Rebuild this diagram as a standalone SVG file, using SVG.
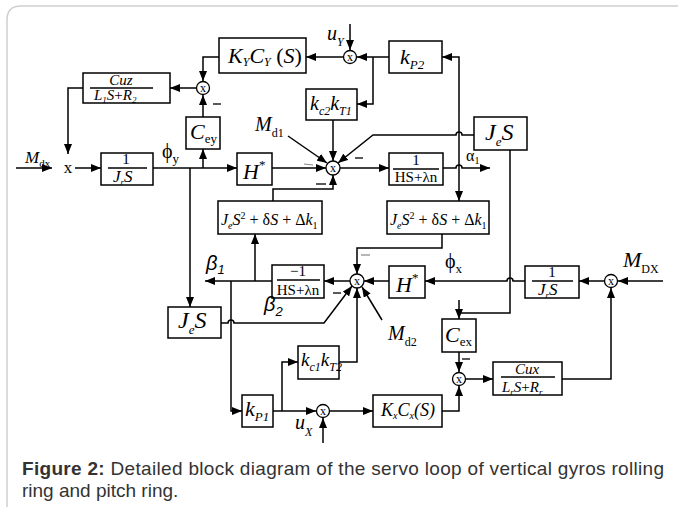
<svg xmlns="http://www.w3.org/2000/svg" width="678" height="507" viewBox="0 0 678 507">
<defs>
<marker id="ah" markerWidth="10" markerHeight="8" refX="10" refY="4" orient="auto" markerUnits="userSpaceOnUse"><path d="M0,0L10,4L0,8z" fill="#000"/></marker>
<style>
.b{fill:#fff;stroke:#000;stroke-width:1.5}
.c{fill:#fff;stroke:#000;stroke-width:1.3}
.l{fill:none;stroke:#000;stroke-width:1.5}
.a{marker-end:url(#ah)}
.f{stroke:#000;stroke-width:1.3}
.mi{stroke:#000;stroke-width:1.3}
.mg{stroke:#888;stroke-width:1.2}
.m{font-family:"Liberation Serif","Times New Roman",serif;font-style:italic;fill:#000}
.r{font-family:"Liberation Serif","Times New Roman",serif;font-style:normal;fill:#000}
.g{font-family:"Liberation Sans",Arial,sans-serif;font-style:italic;fill:#000}
.x{font-family:"Liberation Serif",serif;font-size:12px;text-anchor:middle;fill:#000}
.cap{font-family:"Liberation Sans",Arial,sans-serif;font-size:19px;fill:#333}
</style>
</defs>
<rect width="678" height="507" fill="#fff"/>
<path d="M7,507 V20 Q7,6 21,6 H678" fill="none" stroke="#cfcfcf" stroke-width="1.5"/>

<g id="connectors">
<path class="l a" d="M16,168 H52"/>
<path class="l a" d="M83,88 H68 V154"/>
<path class="l a" d="M75,168 H101"/>
<path class="l a" d="M153,168 H237"/>
<path class="l a" d="M203,168 V149"/>
<path class="l a" d="M203,117 V95"/>
<path class="l a" d="M190,168 V307"/>
<path class="l a" d="M219,57 H203 V81"/>
<path class="l a" d="M196,88 H170"/>
<path class="l a" d="M350,24 V50"/>
<path class="l a" d="M343,57 H306"/>
<path class="l a" d="M389,57 H357"/>
<path class="l a" d="M373,57 V104 H357"/>
<path class="l a" d="M333,120 V161"/>
<path class="l a" d="M272,168 H326"/>
<path class="l a" d="M288,136 L327,163"/>
<path class="l a" d="M474,135 H462 A3,3 0 0 0 456,135 H373 L338,163"/>
<path class="l a" d="M273,201 V189 H333 V175"/>
<path class="l a" d="M340,168 H389"/>
<path class="l a" d="M443,168 H456 A3,3 0 0 1 462,168 H490"/>
<path class="l a" d="M459,110 V57 H442"/>
<path class="l a" d="M459,110 V201"/>
<path class="l a" d="M442,234 V248 H357 V274"/>
<path class="l a" d="M389,281 H364"/>
<path class="l a" d="M525,281 H513 A3,3 0 0 0 507,281 H425"/>
<path class="l a" d="M604,281 H579"/>
<path class="l a" d="M663,281 H618"/>
<path class="l a" d="M562,379 H611 V288"/>
<path class="l a" d="M350,281 H324"/>
<path class="l a" d="M272,281 H205"/>
<path class="l a" d="M255,281 V234"/>
<path class="l a" d="M231,281 V411 H242"/>
<path class="l a" d="M221,323 H228 A3,3 0 0 1 234,323 H324 L352,286"/>
<path class="l a" d="M382,320 L362,287"/>
<path class="l a" d="M339,362 H357 V288"/>
<path class="l a" d="M273,411 H316"/>
<path class="l a" d="M282,411 V362 H298"/>
<path class="l a" d="M323,443 V418"/>
<path class="l a" d="M330,411 H373"/>
<path class="l a" d="M442,411 H459 V386"/>
<path class="l a" d="M459,352 V372"/>
<path class="l a" d="M466,379 H493"/>
<path class="l" d="M510,150 V313 H459"/>
<path class="l a" d="M459,300 V319"/>
<line class="mi" x1="213" y1="104" x2="221" y2="104"/>
<line class="mi" x1="355" y1="158" x2="363" y2="158"/>
<line class="mi" x1="316" y1="184" x2="326" y2="184"/>
<line class="mg" x1="361" y1="255" x2="370" y2="255"/>
<line class="mi" x1="333" y1="293" x2="341" y2="293"/>
<line class="mi" x1="462" y1="359" x2="470" y2="359"/>
<line class="mg" x1="304" y1="164" x2="313" y2="165"/>
</g>

<g id="cuz">
<rect class="b" x="83" y="73" width="87" height="30"/>
<line class="f" x1="90" y1="88" x2="153" y2="88"/>
<text class="m" font-size="15" x="121" y="85" text-anchor="middle">Cuz</text>
<text class="m" font-size="15" x="94" y="100">L<tspan font-size="9" dy="3">1</tspan><tspan dy="-3">S</tspan><tspan font-style="normal">+</tspan>R<tspan font-size="9" dy="3">2</tspan></text>
</g>
<g id="kycy">
<rect class="b" x="219" y="38" width="87" height="35"/>
<text class="m" font-size="22" x="228" y="63">K<tspan font-size="12" dy="3">Y</tspan><tspan dy="-3">C</tspan><tspan font-size="12" dy="3">Y</tspan><tspan dy="-3" font-style="normal"> (</tspan>S<tspan font-style="normal">)</tspan></text>
</g>
<g id="sumUY">
<circle class="c" cx="350" cy="57" r="6.5"/>
<text class="x" x="350" y="61">x</text>
</g>
<g id="kp2">
<rect class="b" x="389" y="41" width="53" height="32"/>
<text class="m" font-size="22" x="400" y="64">k<tspan font-size="13" dy="5">P2</tspan></text>
</g>
<g id="kc2kt1">
<rect class="b" x="306" y="89" width="51" height="31"/>
<text class="m" font-size="20" x="310" y="110">k<tspan font-size="12" dy="5">c2</tspan><tspan dy="-5">k</tspan><tspan font-size="12" dy="5">T1</tspan></text>
</g>
<g id="sumTL">
<circle class="c" cx="203" cy="88" r="6.5"/>
<text class="x" x="203" y="92">x</text>
</g>
<g id="cey">
<rect class="b" x="186" y="117" width="34" height="32"/>
<text class="m" font-size="22" x="190" y="139">C<tspan class="r" font-size="13" dy="4">ey</tspan></text>
</g>
<g id="xjoin">
<text class="r" font-size="17" x="68" y="173" text-anchor="middle">x</text>
</g>
<g id="jrs1">
<rect class="b" x="101" y="153" width="52" height="32"/>
<text class="r" font-size="15" x="126" y="164" text-anchor="middle">1</text>
<line class="f" x1="108" y1="168" x2="147" y2="168"/>
<text class="m" font-size="17" x="113" y="182">J<tspan font-size="9" dy="3">r</tspan><tspan dy="-3">S</tspan></text>
</g>
<g id="hstar1">
<rect class="b" x="237" y="153" width="35" height="32"/>
<text class="m" font-size="22" x="243" y="179">H<tspan class="r" font-size="13" dy="-10">*</tspan></text>
</g>
<g id="sumTop">
<circle class="c" cx="333" cy="168" r="7"/>
<text class="x" x="333" y="172">x</text>
</g>
<g id="hs1">
<rect class="b" x="389" y="153" width="54" height="32"/>
<text class="r" font-size="15" x="416" y="165" text-anchor="middle">1</text>
<line class="f" x1="393" y1="169" x2="439" y2="169"/>
<text class="r" font-size="15" x="416" y="182" text-anchor="middle">HS+λn</text>
</g>
<g id="jes1">
<rect class="b" x="474" y="117" width="53" height="33"/>
<text class="m" font-size="24" x="485" y="140">J<tspan font-size="13" dy="6">e</tspan><tspan dy="-6">S</tspan></text>
</g>
<g id="jes2L">
<rect class="b" x="218" y="201" width="104" height="33"/>
<text class="m" font-size="16" x="221" y="225">J<tspan font-size="10" dy="4">e</tspan><tspan dy="-4">S</tspan><tspan class="r" font-size="10" dy="-6">2</tspan><tspan class="r" dy="6"> + δ</tspan>S<tspan class="r"> + Δ</tspan>k<tspan class="r" font-size="10" dy="4">1</tspan></text>
</g>
<g id="jes2R">
<rect class="b" x="387" y="201" width="102" height="33"/>
<text class="m" font-size="16" x="390" y="225">J<tspan font-size="10" dy="4">e</tspan><tspan dy="-4">S</tspan><tspan class="r" font-size="10" dy="-6">2</tspan><tspan class="r" dy="6"> + δ</tspan>S<tspan class="r"> + Δ</tspan>k<tspan class="r" font-size="10" dy="4">1</tspan></text>
</g>
<g id="hs2">
<rect class="b" x="272" y="265" width="52" height="33"/>
<text class="r" font-size="15" x="298" y="276" text-anchor="middle">−1</text>
<line class="f" x1="277" y1="280" x2="320" y2="280"/>
<text class="r" font-size="15" x="298" y="295" text-anchor="middle">HS+λn</text>
</g>
<g id="sumBot">
<circle class="c" cx="357" cy="281" r="7"/>
<text class="x" x="357" y="285">x</text>
</g>
<g id="hstar2">
<rect class="b" x="389" y="266" width="36" height="32"/>
<text class="m" font-size="22" x="396" y="292">H<tspan class="r" font-size="13" dy="-10">*</tspan></text>
</g>
<g id="jrs2">
<rect class="b" x="525" y="266" width="54" height="32"/>
<text class="r" font-size="15" x="552" y="277" text-anchor="middle">1</text>
<line class="f" x1="532" y1="281" x2="573" y2="281"/>
<text class="m" font-size="17" x="538" y="295">J<tspan font-size="9" dy="3">r</tspan><tspan dy="-3">S</tspan></text>
</g>
<g id="sumR">
<circle class="c" cx="611" cy="281" r="6.5"/>
<text class="x" x="611" y="285">x</text>
</g>
<g id="jes3">
<rect class="b" x="168" y="307" width="53" height="31"/>
<text class="m" font-size="24" x="178" y="328">J<tspan font-size="13" dy="6">e</tspan><tspan dy="-6">S</tspan></text>
</g>
<g id="kc1kt2">
<rect class="b" x="298" y="346" width="41" height="33"/>
<text class="m" font-size="19" x="301" y="366">k<tspan font-size="12" dy="5">c1</tspan><tspan dy="-5">k</tspan><tspan font-size="12" dy="5">T2</tspan></text>
</g>
<g id="kp1">
<rect class="b" x="242" y="395" width="31" height="32"/>
<text class="m" font-size="22" x="245" y="416">k<tspan font-size="13" dy="5">P1</tspan></text>
</g>
<g id="sumUX">
<circle class="c" cx="323" cy="411" r="6.5"/>
<text class="x" x="323" y="415">x</text>
</g>
<g id="kxcx">
<rect class="b" x="373" y="395" width="69" height="32"/>
<text class="m" font-size="18" x="381" y="416">K<tspan font-size="10" dy="3">x</tspan><tspan dy="-3">C</tspan><tspan font-size="10" dy="3">x</tspan><tspan dy="-3">(S)</tspan></text>
</g>
<g id="cex">
<rect class="b" x="442" y="319" width="34" height="33"/>
<text class="m" font-size="22" x="445" y="342">C<tspan class="r" font-size="13" dy="4">ex</tspan></text>
</g>
<g id="sumLow">
<circle class="c" cx="459" cy="379" r="6.5"/>
<text class="x" x="459" y="383">x</text>
</g>
<g id="cux">
<rect class="b" x="493" y="362" width="69" height="33"/>
<text class="m" font-size="15" x="527" y="374" text-anchor="middle">Cux</text>
<line class="f" x1="501" y1="377" x2="555" y2="377"/>
<text class="m" font-size="15" x="502" y="392">L<tspan font-size="9" dy="3">r</tspan><tspan dy="-3">S</tspan><tspan font-style="normal">+</tspan>R<tspan font-size="9" dy="3">r</tspan></text>
</g>

<g id="labels">
<text class="m" font-size="17" x="25" y="163">M<tspan class="r" font-size="11" dy="4">dx</tspan></text>
<text class="r" font-size="20" x="162" y="158">ϕ<tspan font-size="13" dy="5">y</tspan></text>
<text class="m" font-size="20" x="255" y="131">M<tspan class="r" font-size="12" dy="6">d1</tspan></text>
<text class="r" font-size="16" x="466" y="161">α<tspan font-size="10" dy="3">1</tspan></text>
<text class="g" font-size="20" x="206" y="270">β<tspan font-size="13" dy="4">1</tspan></text>
<text class="g" font-size="20" x="264" y="311">β<tspan font-size="13" dy="5">2</tspan></text>
<text class="r" font-size="20" x="445" y="268">ϕ<tspan font-size="13" dy="5">x</tspan></text>
<text class="m" font-size="22" x="623" y="267">M<tspan class="r" font-size="12" dy="6">DX</tspan></text>
<text class="m" font-size="20" x="388" y="340">M<tspan class="r" font-size="12" dy="6">d2</tspan></text>
<text class="m" font-size="20" x="327" y="40">u<tspan font-size="12" dy="6">Y</tspan></text>
<text class="m" font-size="20" x="295" y="429">u<tspan font-size="12" dy="7">X</tspan></text>
</g>

<g id="caption">
<text class="cap" x="22" y="475" textLength="642" lengthAdjust="spacing"><tspan font-weight="bold">Figure 2:</tspan>  Detailed block diagram of the servo loop of vertical gyros rolling</text>
<text class="cap" x="22" y="497">ring and pitch ring.</text>
</g>
</svg>
